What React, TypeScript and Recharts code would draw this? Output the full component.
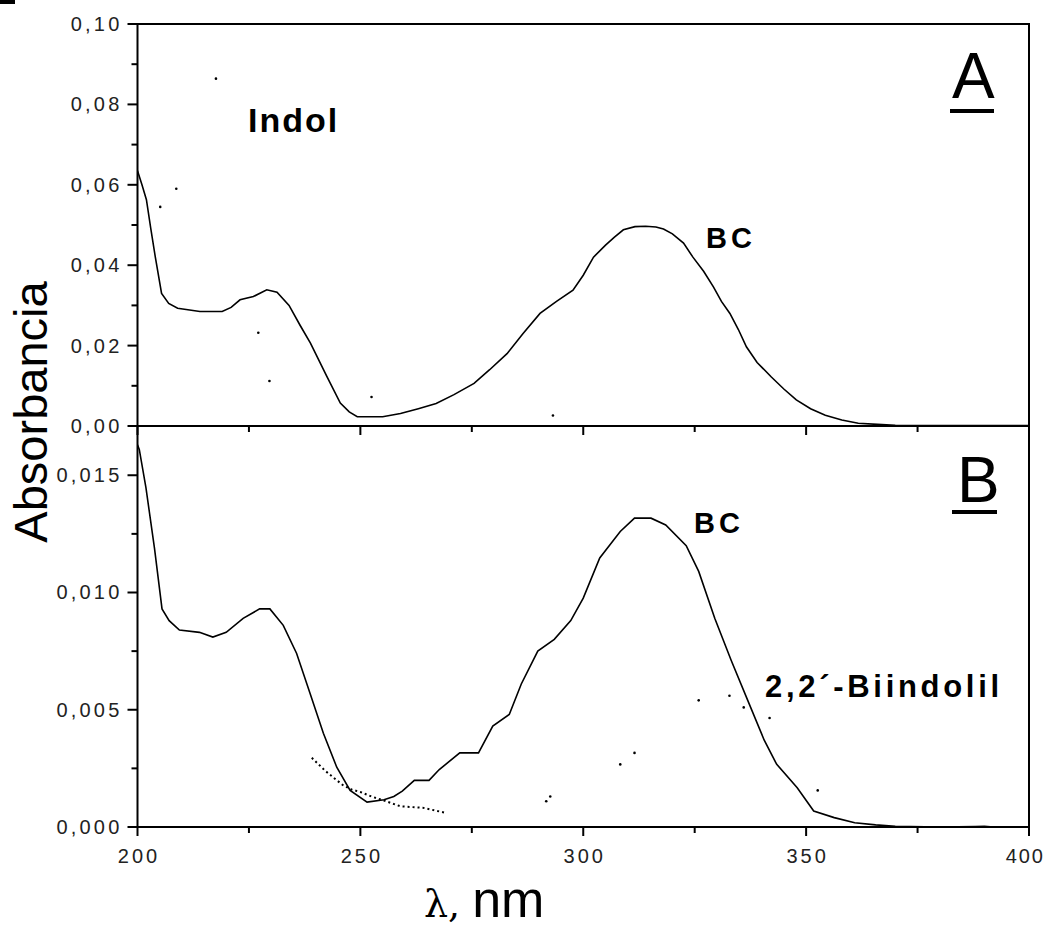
import { ComposedChart, Line, Scatter, XAxis, YAxis, ReferenceArea } from 'recharts';

// Panel A: Indol spectrum
const wavelengthsA = [
  200, 201, 202, 203, 204, 205.4, 207, 209, 214, 219, 221, 223, 226, 229, 231.3, 234,
  236.5, 238.8, 242.5, 245.5, 247.5, 249.3, 255, 259, 263, 267, 271, 275.5, 279, 282.9,
  286.5, 290.3, 294, 297.7, 300, 302.3, 305, 307, 309, 311.6, 314, 316.3, 318, 320,
  322.5, 324.6, 327, 329.2, 331, 332.9, 334.8, 336.6, 339, 342.2, 345, 347.8, 351,
  354.3, 358, 361.7, 366, 370, 380, 400,
];
const indolA = [
  0.0635, 0.06, 0.0563, 0.049, 0.042, 0.033, 0.0305, 0.0293, 0.0285, 0.0285, 0.0295,
  0.0314, 0.0322, 0.0339, 0.0333, 0.03, 0.025, 0.0206, 0.0123, 0.0057, 0.0035, 0.0023,
  0.0023, 0.0031, 0.0043, 0.0056, 0.0078, 0.0106, 0.014, 0.018, 0.023, 0.028, 0.031,
  0.0338, 0.0375, 0.042, 0.045, 0.047, 0.0488, 0.0496, 0.0497, 0.0495, 0.049, 0.0478,
  0.0455, 0.042, 0.0385, 0.0346, 0.031, 0.028, 0.024, 0.0197, 0.0158, 0.0122, 0.0092,
  0.0065, 0.0043, 0.0027, 0.0015, 0.0007, 0.0004, 0.0002, 0.0001, 0.0001,
];
const strayXA = [205.1, 208.7, 217.6, 227.1, 229.6, 252.5, 293.2];
const strayYA = [0.0545, 0.059, 0.0864, 0.0232, 0.0112, 0.0072, 0.0026];

// Panel B: BC spectrum
const wavelengthsB = [
  200, 200.4, 201.9, 203.8, 205.5, 207.1, 209.4, 213.9, 216.9, 219.9, 223.7, 227.4,
  229.7, 232.7, 235.7, 238.7, 241.7, 244.7, 247.7, 251.5, 255.3, 257.5, 259.4, 262.1,
  265.4, 267.7, 272.3, 276.5, 279.7, 283.4, 286.1, 289.8, 293.5, 297.2, 300, 303.7,
  308.3, 311.5, 315.2, 318.5, 323.1, 325.9, 329.5, 333.2, 336.9, 340.6, 343.4, 348,
  351.7, 356.3, 360.9, 365.6, 370, 380, 388, 390, 392, 400,
];
const bcB = [
  0.0163, 0.0161, 0.01446, 0.0119, 0.0093, 0.0088, 0.0084, 0.0083, 0.0081, 0.0083,
  0.0089, 0.0093, 0.0093, 0.0086, 0.0074, 0.0057, 0.004, 0.00255, 0.00156, 0.00106,
  0.00116, 0.0013, 0.00153, 0.00199, 0.00199, 0.00245, 0.00316, 0.00316, 0.0043,
  0.0048, 0.0061, 0.0075, 0.008, 0.0088, 0.00976, 0.01147, 0.0126, 0.01317, 0.01317,
  0.01288, 0.012, 0.0109, 0.0089, 0.0071, 0.0054, 0.0037, 0.00267, 0.00167, 0.00068,
  0.0004, 0.00018, 0.00009, 0.00003, 0, 0.00002, 0.00003, 0, 0,
];
// 2,2'-Biindolil (dotted)
const wavelengthsBiindolil = [239.1, 242.1, 244, 246.2, 248, 250, 252.5, 255.3, 259, 264, 269];
const biindolil = [0.00295, 0.0024, 0.0021, 0.00177, 0.0016, 0.00149, 0.0013, 0.00113, 0.00088, 0.00082, 0.00061];
const strayXB = [291.7, 292.6, 308.3, 311.5, 325.9, 332.8, 336, 341.8, 352.6];
const strayYB = [0.0011, 0.0013, 0.00267, 0.00316, 0.0054, 0.0056, 0.0051, 0.00465, 0.00156];

const xTicks = [200, 225, 250, 275, 300, 325, 350, 375, 400];
const yTicksA = [0, 0.01, 0.02, 0.03, 0.04, 0.05, 0.06, 0.07, 0.08, 0.09, 0.1];
const yTicksB = [0, 0.0025, 0.005, 0.0075, 0.01, 0.0125, 0.015];

const toPoints = (xs: number[], ys: number[]) => xs.map((x, i) => ({ x, y: ys[i] }));

const FONT = "'Liberation Sans', Arial, sans-serif";
const PLOT_LEFT = 137.5;
const AXIS_A = 426;
const AXIS_B = 827;

const makeYTick = (decimals: number, isMajor: (v: number) => boolean) => (props: any) => {
  const { y, payload } = props;
  const v = payload.value as number;
  const major = isMajor(v);
  return (
    <g>
      <line x1={PLOT_LEFT - (major ? 10 : 6)} x2={PLOT_LEFT} y1={y} y2={y} stroke="#000" strokeWidth={2} />
      {major && (
        <text x={PLOT_LEFT - 15} y={y + 7} textAnchor="end" fontSize={20} letterSpacing={3.2} fill="#222" fontFamily={FONT}>
          {v.toFixed(decimals).replace('.', ',')}
        </text>
      )}
    </g>
  );
};

const makeXTick = (axisY: number, showLabels: boolean) => (props: any) => {
  const { x, payload } = props;
  const v = payload.value as number;
  const major = v % 50 === 0;
  const last = v === 400;
  return (
    <g>
      <line x1={x} x2={x} y1={axisY} y2={axisY + (major ? 9 : 6)} stroke="#000" strokeWidth={2} />
      {showLabels && major && (
        <text
          x={last ? 1045 : x + 1.5}
          y={axisY + 36}
          textAnchor={last ? 'end' : 'middle'}
          fontSize={20}
          letterSpacing={last ? 2 : 3}
          fill="#222"
          fontFamily={FONT}
        >
          {v}
        </text>
      )}
    </g>
  );
};

const dot = (p: any) => <circle cx={p.cx} cy={p.cy} r={1.3} fill="#000" />;

const chartStyle: React.CSSProperties = { position: 'absolute', left: 0, top: 0 };

export default function App() {
  return (
    <div style={{ position: 'absolute', left: 0, top: 0, width: 1047, height: 929, background: '#fff', overflow: 'hidden' }}>
      <div style={{ position: 'absolute', left: 0, top: 0, width: 15, height: 4, background: '#000' }} />
      <div style={chartStyle}>
        <ComposedChart width={1047} height={929} margin={{ top: 24, right: 18, bottom: 929 - AXIS_A - 2, left: 0 }}>
          <XAxis
            dataKey="x"
            type="number"
            domain={[200, 400]}
            ticks={xTicks}
            interval={0}
            height={2}
            axisLine={false}
            tickLine={false}
            tick={makeXTick(AXIS_A, false)}
            allowDataOverflow
          />
          <YAxis
            dataKey="y"
            type="number"
            domain={[0, 0.1]}
            ticks={yTicksA}
            interval={0}
            width={PLOT_LEFT}
            axisLine={false}
            tickLine={false}
            tick={makeYTick(2, (v) => Math.round(v * 100) % 2 === 0)}
            allowDataOverflow
          />
          <ReferenceArea x1={200} x2={400} y1={0} y2={0.1} fill="none" stroke="#000" strokeWidth={2} />
          <Line data={toPoints(wavelengthsA, indolA)} dataKey="y" type="linear" stroke="#000" strokeWidth={1.6} dot={false} isAnimationActive={false} />
          <Scatter data={toPoints(strayXA, strayYA)} dataKey="y" shape={dot} isAnimationActive={false} />
        </ComposedChart>
      </div>
      <div style={chartStyle}>
        <ComposedChart width={1047} height={929} margin={{ top: AXIS_A, right: 18, bottom: 929 - AXIS_B - 2, left: 0 }}>
          <XAxis
            dataKey="x"
            type="number"
            domain={[200, 400]}
            ticks={xTicks}
            interval={0}
            height={2}
            axisLine={false}
            tickLine={false}
            tick={makeXTick(AXIS_B, true)}
            allowDataOverflow
          />
          <YAxis
            dataKey="y"
            type="number"
            domain={[0, 0.0171]}
            ticks={yTicksB}
            interval={0}
            width={PLOT_LEFT}
            axisLine={false}
            tickLine={false}
            tick={makeYTick(3, (v) => Math.round(v * 10000) % 50 === 0)}
            allowDataOverflow
          />
          <ReferenceArea x1={200} x2={400} y1={0} y2={0.0171} fill="none" stroke="#000" strokeWidth={2} />
          <Line data={toPoints(wavelengthsB, bcB)} dataKey="y" type="linear" stroke="#000" strokeWidth={1.6} dot={false} isAnimationActive={false} />
          <Line
            data={toPoints(wavelengthsBiindolil, biindolil)}
            dataKey="y"
            type="linear"
            stroke="#000"
            strokeWidth={2}
            strokeDasharray="2 3"
            dot={false}
            isAnimationActive={false}
          />
          <Scatter data={toPoints(strayXB, strayYB)} dataKey="y" shape={dot} isAnimationActive={false} />
        </ComposedChart>
      </div>
      <svg width={1047} height={929} style={{ position: 'absolute', left: 0, top: 0, pointerEvents: 'none' }}>
        <text x={47} y={412} transform="rotate(-90 47 412)" textAnchor="middle" fontSize={47} fontFamily={FONT} fill="#000">
          Absorbancia
        </text>
        <text x={424} y={917} fontFamily={FONT} fill="#000">
          <tspan fontSize={38} fontFamily="'DejaVu Serif', serif">λ,</tspan>
          <tspan dx={12} fontSize={52}>nm</tspan>
        </text>
        <text x={952} y={98} fontSize={64} fontFamily={FONT} fill="#000">A</text>
        <rect x={950} y={109} width={44} height={4} fill="#000" />
        <text x={957} y={502} fontSize={64} fontFamily={FONT} fill="#000">B</text>
        <rect x={952} y={510} width={45} height={4} fill="#000" />
        <text x={248} y={132} fontSize={34} fontWeight="bold" letterSpacing={2} fontFamily={FONT} fill="#000">Indol</text>
        <text x={706} y={248} fontSize={29} fontWeight="bold" letterSpacing={4} fontFamily={FONT} fill="#000">BC</text>
        <text x={694} y={533} fontSize={29} fontWeight="bold" letterSpacing={4} fontFamily={FONT} fill="#000">BC</text>
        <text x={765} y={697} fontSize={31} fontWeight="bold" letterSpacing={3.7} fontFamily={FONT} fill="#000">2,2´-Biindolil</text>
      </svg>
    </div>
  );
}
